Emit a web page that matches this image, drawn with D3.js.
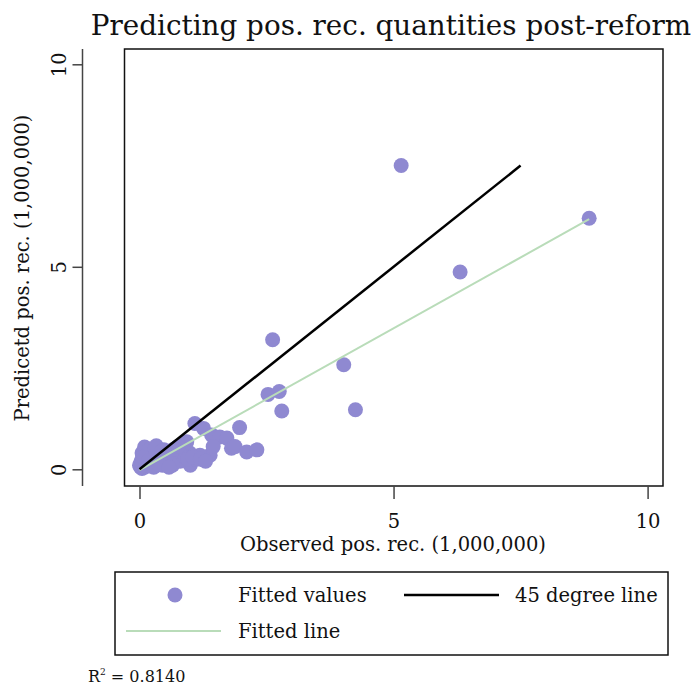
<!DOCTYPE html>
<html><head><meta charset="utf-8">
<script src="https://cdn.jsdelivr.net/npm/d3@7"></script>
<style>body{margin:0;background:#fff;} svg{display:block;} text{font-family:"DejaVu Serif","Liberation Serif",serif;fill:#111;}</style>
</head><body>
<svg id="c" width="695" height="688"></svg>
<script>
// observed (x) and predicted (y) values, in 1,000,000
const observed = [5.15,8.85,6.31,2.62,4.02,2.53,2.75,2.80,4.25,1.97,
  1.09,1.26,1.42,1.58,1.72,1.81,1.88,2.11,2.31,1.39,1.19,0.99,1.45,0.93,0.86,0.80,1.00,1.10,
  0.05,0.10,0.15,0.20,0.08,0.03,0.12,0.05,0.15,0.10,0.25,0.30,0.35,0.40,0.45,0.50,0.55,0.60,0.65,0.70,0.75,0.80,0.85,0.90,
  0.20,0.30,0.02,0.00,0.04,0.06,0.18,0.28,0.38,0.48,0.58,0.68,0.95,1.05,1.20,1.30,0.76,0.33,0.44];
const predicted = [7.50,6.20,4.87,3.20,2.58,1.85,1.92,1.44,1.47,1.03,
  1.13,1.01,0.85,0.80,0.77,0.52,0.56,0.43,0.48,0.35,0.35,0.40,0.56,0.68,0.60,0.20,0.10,0.25,
  0.02,0.05,0.10,0.08,0.15,0.20,0.30,0.40,0.45,0.55,0.30,0.15,0.40,0.25,0.10,0.35,0.20,0.45,0.10,0.30,0.55,0.22,0.35,0.30,
  0.50,0.52,0.05,0.10,0.08,0.30,0.22,0.05,0.12,0.48,0.05,0.50,0.25,0.30,0.25,0.20,0.56,0.58,0.45];
const xTicks = [0,5,10];
const yTicks = [0,5,10];
const fitIntercept = -0.02, fitSlope = 0.70; // fitted line
const title = "Predicting pos. rec. quantities post-reform";
const xTitle = "Observed pos. rec. (1,000,000)";
const yTitle = "Predicetd pos. rec. (1,000,000)";
const legendLabels = ["Fitted values","45 degree line","Fitted line"];
const r2Text = "0.8140";

const svg = d3.select("#c");
const x = d3.scaleLinear().domain([0,10]).range([139.5,647.6]);
const y = d3.scaleLinear().domain([0,10]).range([469.3,64.3]);
const frame = {l:124.5,t:49,r:663,b:486};
const dotColor = "#8f89d1", fitColor = "#b9dcb9";
const fs = "19.5px";

svg.append("text").attr("x",391).attr("y",35).attr("text-anchor","middle")
  .style("font-size","27.8px").text(title);

// plot frame
svg.append("rect").attr("x",frame.l).attr("y",frame.t).attr("width",frame.r-frame.l).attr("height",frame.b-frame.t)
  .attr("fill","none").attr("stroke","#111").attr("stroke-width",1.5);

// y axis (separate, left)
const ya = svg.append("g").attr("transform","translate(82.5,0)")
  .call(d3.axisLeft(y).tickValues(yTicks).tickSize(10).tickPadding(0).tickSizeOuter(0));
ya.select(".domain").attr("d",`M0,${frame.t}V${frame.b}`).attr("stroke","#444").attr("stroke-width",1.5);
ya.selectAll(".tick line").attr("stroke","#444").attr("stroke-width",1.5);
ya.selectAll(".tick text").remove();
ya.selectAll(".tick").append("text").attr("transform","translate(-17,0) rotate(-90)")
  .attr("text-anchor","middle").attr("dy","0").style("font-size",fs).attr("fill","#111")
  .text(d=>d);

// x axis
const xa = svg.append("g").attr("transform",`translate(0,${frame.b})`)
  .call(d3.axisBottom(x).tickValues(xTicks).tickSize(13).tickPadding(0).tickSizeOuter(0));
xa.select(".domain").remove();
xa.selectAll(".tick line").attr("stroke","#444").attr("stroke-width",1.5);
xa.selectAll(".tick text").attr("y",0).attr("dy","42px").style("font-size",fs).attr("fill","#111");

svg.append("text").attr("x",393).attr("y",551).attr("text-anchor","middle").style("font-size",fs).text(xTitle);
svg.append("text").attr("transform","translate(29,268) rotate(-90)").attr("text-anchor","middle").style("font-size",fs).text(yTitle);

// points
const pts = observed.map((v,i)=>({x:v,y:predicted[i]}));
svg.append("g").selectAll("circle").data(pts).join("circle")
  .attr("cx",d=>x(d.x)).attr("cy",d=>y(d.y)).attr("r",7.5).attr("fill",dotColor);

// fitted line
const xmin = d3.min(observed), xmax = d3.max(observed);
const line = d3.line().x(d=>x(d[0])).y(d=>y(d[1]));
svg.append("path").attr("d",line([[xmin,fitIntercept+fitSlope*xmin],[xmax,fitIntercept+fitSlope*xmax]]))
  .attr("stroke",fitColor).attr("stroke-width",2).attr("fill","none");
// 45 degree line
const pmax = d3.max(predicted);
svg.append("path").attr("d",line([[0,0],[pmax,pmax]]))
  .attr("stroke","#000").attr("stroke-width",2.5).attr("fill","none");

// legend
svg.append("rect").attr("x",115).attr("y",572).attr("width",553).attr("height",83)
  .attr("fill","none").attr("stroke","#111").attr("stroke-width",1.5);
svg.append("circle").attr("cx",175).attr("cy",595).attr("r",7.5).attr("fill",dotColor);
svg.append("text").attr("x",238).attr("y",602).style("font-size",fs).text(legendLabels[0]);
svg.append("line").attr("x1",404).attr("x2",499).attr("y1",595).attr("y2",595).attr("stroke","#000").attr("stroke-width",2.5);
svg.append("text").attr("x",515).attr("y",602).style("font-size",fs).text(legendLabels[1]);
svg.append("line").attr("x1",126).attr("x2",221).attr("y1",631).attr("y2",631).attr("stroke",fitColor).attr("stroke-width",2);
svg.append("text").attr("x",238).attr("y",638).style("font-size",fs).text(legendLabels[2]);

// R^2
const rt = svg.append("text").attr("x",88).attr("y",682).style("font-size","16px");
rt.append("tspan").text("R");
rt.append("tspan").attr("dy","-7").style("font-size","9px").text("2");
rt.append("tspan").attr("dy","7").text(" = " + r2Text);
</script>
</body></html>
